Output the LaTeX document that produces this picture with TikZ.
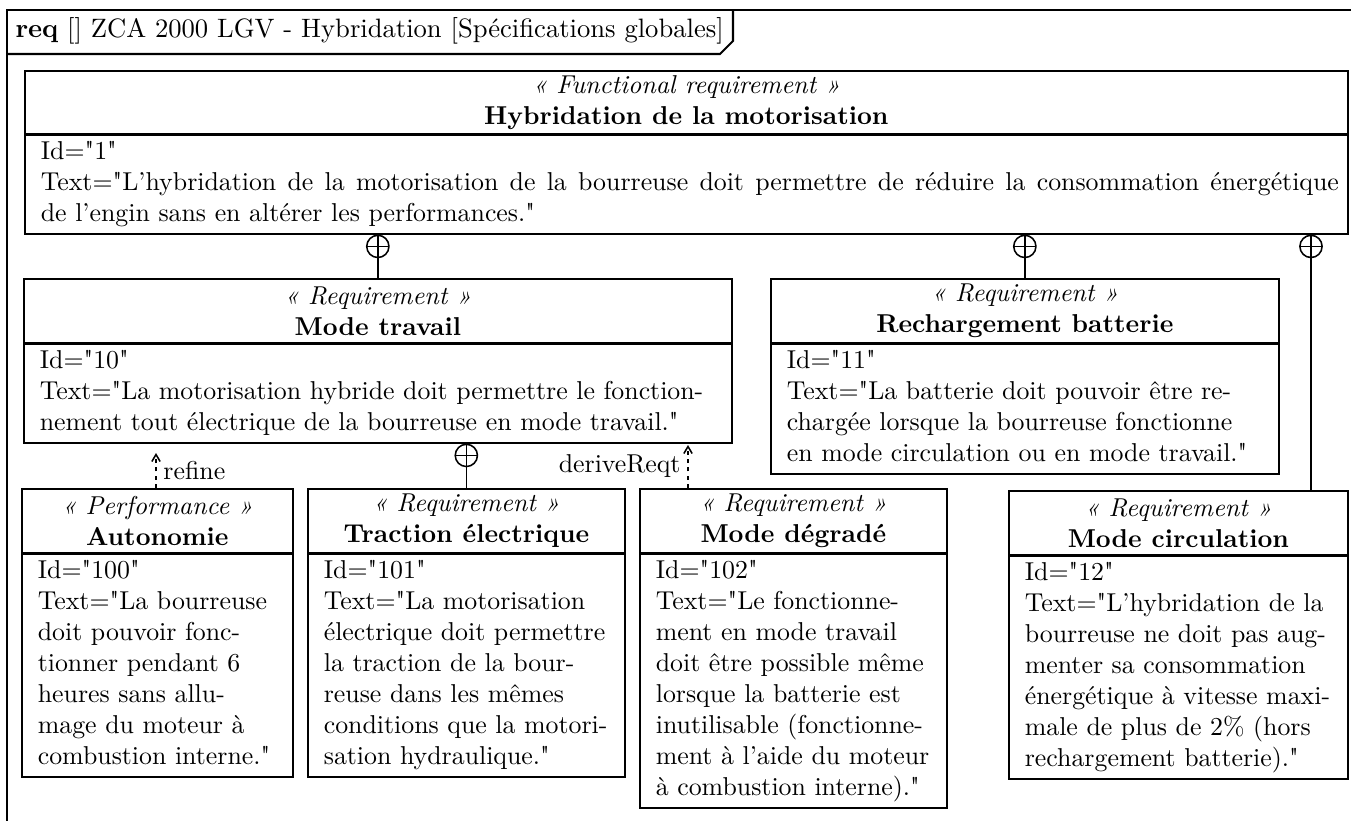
\documentclass[tikz,border=0pt]{standalone}
\usetikzlibrary{arrows.meta}
\newcommand\qq{\XeTeXglyph\XeTeXcharglyph"22\relax}
\tikzset{
  hdr/.style={draw, line width=0.65pt, anchor=north west, align=center, inner sep=0pt},
  bodyb/.style={draw, line width=0.65pt, anchor=north west, inner xsep=6.19pt, inner ysep=1pt, align=left},
  plusc/.style={draw, circle, line width=0.6pt, minimum size=8.6pt, inner sep=0pt, anchor=north,
    path picture={\draw[line width=0.6pt] (path picture bounding box.north) -- (path picture bounding box.south)
      (path picture bounding box.west) -- (path picture bounding box.east);}},
  contain/.style={line width=0.6pt},
  dep/.style={line width=0.6pt, dash pattern=on 1.6pt off 1.6pt, -{Straight Barb[length=2.7pt,width=3.2pt]}},
  frameline/.style={line width=0.8pt},
  lbl/.style={inner ysep=1pt, inner xsep=2.6pt},
}
\newcommand\reqb[8]{%
  \pgfmathsetmacro\rqbw{#4*0.3871}%
  \pgfmathsetmacro\rqtw{(#4-32)*0.3871}%
  \pgfmathsetmacro\rqhh{#5*0.3871}%
  \node[hdr, minimum width=\rqbw pt, minimum height=\rqhh pt] (#1h) at (#2,#3) {\textit{« #6 »}\\\textbf{#7}};
  \node[bodyb, text width=\rqtw pt] (#1) at (#1h.south west) {\strut #8\strut};
}
\begin{document}
\begin{tikzpicture}[x=0.3871pt, y=-0.3871pt]
\useasboundingbox (0,0) rectangle (1351,820);
\clip (0,0) rectangle (1351,820);
% frame
\draw[frameline] (7,840) -- (7,10) -- (1370,10);
\node[anchor=west, inner sep=0pt, font=\fontsize{10.3}{12}\selectfont] (ttl) at (15,31) {\textbf{req} [] ZCA 2000 LGV - Hybridation [Spécifications globales]};
\draw[frameline] (7,54) -- (720,54) -- (733,41) -- (733,10);

\reqb{top}{24}{70}{1323}{63}{Functional requirement}{Hybridation de la motorisation}{Id=\qq1\qq\\\makebox[502.5pt][s]{\spaceskip=0pt\xspaceskip=0pt\relax Text=\qq L'hybridation de la motorisation de la bourreuse doit permettre de réduire la consommation énergétique}\\de l'engin sans en altérer les performances.\qq}

\reqb{mt}{23}{278}{708}{64}{Requirement}{Mode travail}{Id=\qq10\qq\\Text=\qq La motorisation hybride doit permettre le fonction-\\nement tout électrique de la bourreuse en mode travail.\qq}

\reqb{rb}{770}{278}{508}{64}{Requirement}{Rechargement batterie}{Id=\qq11\qq\\Text=\qq La batterie doit pouvoir être re-\\chargée lorsque la bourreuse fonctionne\\en mode circulation ou en mode travail.\qq}

\reqb{au}{21}{488}{271}{64}{Performance}{Autonomie}{Id=\qq100\qq\\Text=\qq La bourreuse\\doit pouvoir fonc-\\tionner pendant 6\\heures sans allu-\\mage du moteur à\\combustion interne.\qq}

\reqb{te}{307}{488}{317}{64}{Requirement}{Traction électrique}{Id=\qq101\qq\\Text=\qq La motorisation\\électrique doit permettre\\la traction de la bour-\\reuse dans les mêmes\\conditions que la motori-\\sation hydraulique.\qq}

\reqb{md}{639}{488}{307}{64}{Requirement}{Mode dégradé}{Id=\qq102\qq\\Text=\qq Le fonctionne-\\ment en mode travail\\doit être possible même\\lorsque la batterie est\\inutilisable (fonctionne-\\ment à l'aide du moteur\\à combustion interne).\qq}

\reqb{mc}{1008}{490}{339}{64}{Requirement}{Mode circulation}{Id=\qq12\qq\\Text=\qq L'hybridation de la\\bourreuse ne doit pas aug-\\menter sa consommation\\énergétique à vitesse maxi-\\male de plus de 2\% (hors\\rechargement batterie).\qq}

% containment
\node[plusc] (p1) at (top.south -| mth.north) {};
\draw[contain] (p1.south) -- (mth.north);
\node[plusc] (p2) at (top.south -| rbh.north) {};
\draw[contain] (p2.south) -- (rbh.north);
\coordinate (x3) at (1311,0);
\node[plusc] (p3) at (top.south -| x3) {};
\draw[contain] (p3.south) -- (p3.south |- mch.north);
\node[plusc] (p4) at (mt.south -| teh.north) {};
\draw[contain] (p4.south) -- (teh.north);

% dependencies
\coordinate (rt) at (156,453);
\draw[dep] (auh.north -| rt) -- (rt) node[lbl, midway, right] {refine};
\coordinate (dt) at (688,445);
\draw[dep] (mdh.north -| dt) -- (dt) node[lbl, midway, left] {deriveReqt};
\end{tikzpicture}
\end{document}
